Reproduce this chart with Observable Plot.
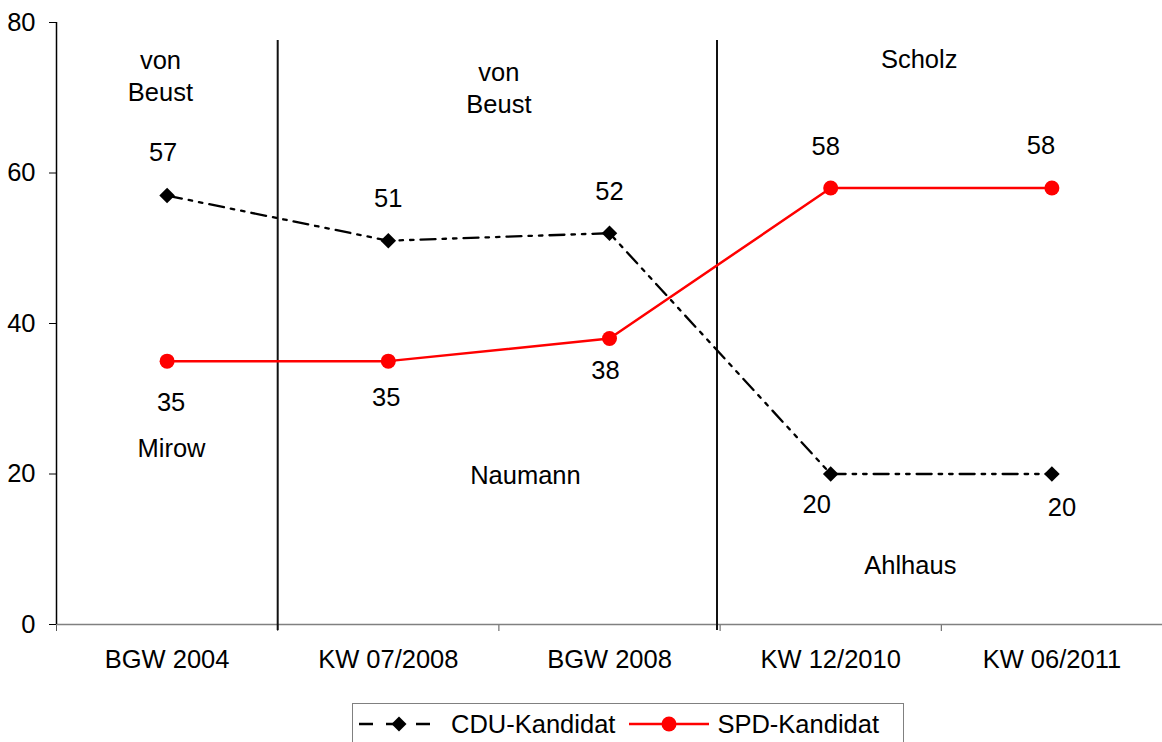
<!DOCTYPE html>
<html>
<head>
<meta charset="utf-8">
<script src="https://cdn.jsdelivr.net/npm/d3@7"></script>
<script src="https://cdn.jsdelivr.net/npm/@observablehq/plot@0.6"></script>
<style>
  html, body { margin: 0; padding: 0; background: #fff; }
  body { width: 1162px; height: 742px; overflow: hidden; position: relative; font-family: "Liberation Sans", Arial, sans-serif; }
  #legend { position: absolute; left: 352px; top: 703px; width: 552px; height: 46px; border: 1px solid #808080; box-sizing: border-box; display: flex; align-items: center; font-size: 25.5px; color: #000; padding-bottom: 4px; }
  #legend .item { display: flex; align-items: center; }
  #legend svg { display: block; }
</style>
</head>
<body>
<div id="chart"></div>
<div id="legend"></div>
<script>
const categories = ["BGW 2004", "KW 07/2008", "BGW 2008", "KW 12/2010", "KW 06/2011"];
const cduValues = [57, 51, 52, 20, 20];
const spdValues = [35, 35, 38, 58, 58];
const yTicks = [0, 20, 40, 60, 80];
const seriesNames = ["CDU-Kandidat", "SPD-Kandidat"];

// candidate name annotations (x in category index units, y in value units)
const nameTexts = ["von\nBeust", "Mirow", "von\nBeust", "Naumann", "Scholz", "Ahlhaus"];
const nameX = [-0.03, 0.02, 1.5, 1.62, 3.4, 3.36];
const nameY = [73.1, 23.7, 71.5, 20.1, 75.4, 8.1];

// period separators (between categories)
const separatorX = [0.5, 2.486];

// label offsets (pixels), style only
const cduLabelDx = [-4, 0, 0, -14, 10];
const cduLabelDy = [-43, -42, -41, 31, 34];
const spdLabelDx = [4, -2, -4, -5, -11];
const spdLabelDy = [42, 37, 32, -41, -42];

const cdu = categories.map((c, i) => ({i, c, v: cduValues[i]}));
const spd = categories.map((c, i) => ({i, c, v: spdValues[i]}));
const names = nameTexts.map((t, k) => ({t, x: nameX[k], y: nameY[k]}));

const FONT = 25.5;
const cduLabels = cdu.map((d, k) => Plot.text([d], {x: "i", y: "v", text: d => String(d.v), dx: cduLabelDx[k], dy: cduLabelDy[k], fontSize: FONT, fill: "#000"}));
const spdLabels = spd.map((d, k) => Plot.text([d], {x: "i", y: "v", text: d => String(d.v), dx: spdLabelDx[k], dy: spdLabelDy[k], fontSize: FONT, fill: "#000"}));

const boundaries = d3.range(-0.5, categories.length - 0.5, 1);

const chart = Plot.plot({
  width: 1162,
  height: 690,
  marginLeft: 56,
  marginRight: 0,
  marginTop: 22,
  marginBottom: 66,
  style: {fontFamily: "'Liberation Sans', Arial, sans-serif", fontSize: FONT + "px", color: "#000", background: "#fff"},
  x: {domain: [-0.5, categories.length - 0.5]},
  y: {domain: [0, 80]},
  marks: [
    Plot.axisY({ticks: yTicks, tickSize: 7, tickPadding: 14, label: null, fontSize: FONT, stroke: "#000"}),
    Plot.axisX({ticks: boundaries, tickFormat: () => "", tickSize: 7, label: null, stroke: "#555"}),
    Plot.axisX({ticks: d3.range(categories.length), tickFormat: i => categories[i], tickSize: 0, tickPadding: 25, label: null, fontSize: FONT}),
    Plot.ruleY([0], {stroke: "#808080", strokeWidth: 1.5}),
    Plot.ruleX([-0.5], {y1: 0, y2: 80, stroke: "#000", strokeWidth: 1.5}),
    Plot.ruleX(separatorX, {y1: 77.6, y2: -0.8, stroke: "#111", strokeWidth: 2}),
    Plot.line(cdu, {x: "i", y: "v", stroke: "#000", strokeWidth: 2.3, strokeDasharray: "15,7,3.5,7,3.5,7"}),
    Plot.line(spd, {x: "i", y: "v", stroke: "#ff0000", strokeWidth: 2.5}),
    Plot.dot(cdu, {x: "i", y: "v", symbol: "diamond2", r: 7, fill: "#000", stroke: "none"}),
    Plot.dot(spd, {x: "i", y: "v", r: 7.5, fill: "#ff0000", stroke: "none"}),
    ...cduLabels,
    ...spdLabels,
    Plot.text(names, {x: "x", y: "y", text: "t", fontSize: FONT, lineHeight: 1.28, fill: "#000"})
  ]
});
document.getElementById("chart").appendChild(chart);

// legend
const legend = document.getElementById("legend");
const ns = "http://www.w3.org/2000/svg";
function sample(kind) {
  const s = document.createElementNS(ns, "svg");
  s.setAttribute("width", 80); s.setAttribute("height", 20);
  if (kind === 0) {
    s.innerHTML = '<line x1="0" y1="10" x2="80" y2="10" stroke="#000" stroke-width="2.5" stroke-dasharray="14,13,9,0,8,13,14,20" />' +
      '<path d="M40,2.5 L47.5,10 L40,17.5 L32.5,10 Z" fill="#000"/>';
  } else {
    s.innerHTML = '<line x1="0" y1="10" x2="80" y2="10" stroke="#ff0000" stroke-width="2.5" />' +
      '<circle cx="40" cy="10" r="7.5" fill="#ff0000"/>';
  }
  return s;
}
seriesNames.forEach((name, k) => {
  const item = document.createElement("div");
  item.className = "item";
  const sv = sample(k);
  sv.style.marginLeft = k === 0 ? "6px" : "14px";
  item.appendChild(sv);
  const t = document.createElement("span");
  t.textContent = name;
  t.style.marginLeft = k === 0 ? "12px" : "8px";
  item.appendChild(t);
  legend.appendChild(item);
});
</script>
</body>
</html>
